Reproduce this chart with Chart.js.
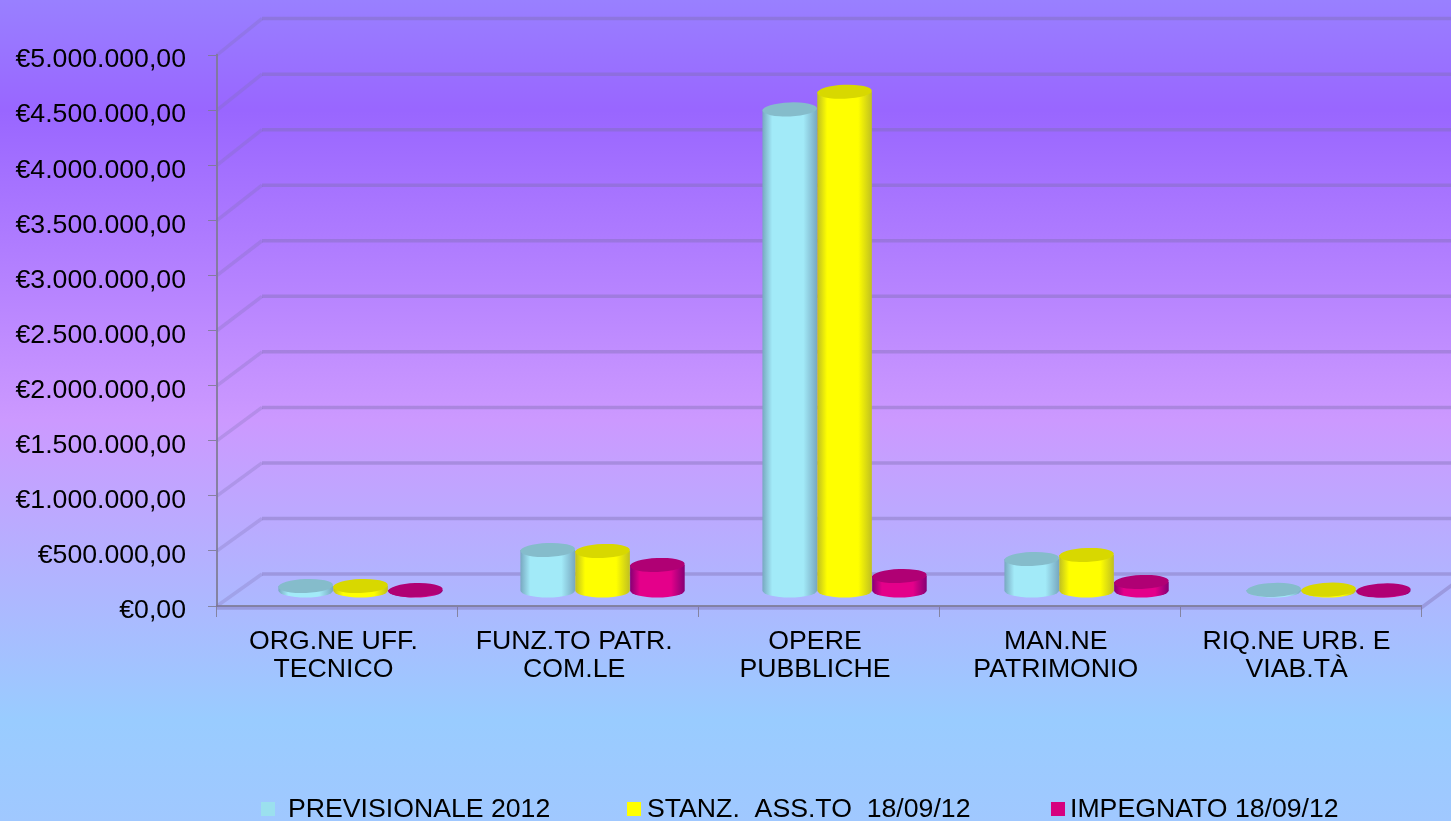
<!DOCTYPE html>
<html>
<head>
<meta charset="utf-8">
<title>Grafico</title>
<script src="https://cdn.jsdelivr.net/npm/chart.js@4"></script>
<style>
  html, body { margin: 0; padding: 0; height: 100%; overflow: hidden; }
  body { background: linear-gradient(to bottom, #9980ff 0px, #9966ff 110px, #cc99ff 420px, #99ccff 720px, #a0c8ff 821px); }
  #wrap { position: absolute; left: 0; top: 0; width: 1451px; height: 821px; }
  canvas { filter: blur(0.6px); }
</style>
</head>
<body>
<div id="wrap"><canvas id="chart1"></canvas></div>
<script>
// Dati
const categories = [
  ['ORG.NE UFF.', 'TECNICO'],
  ['FUNZ.TO PATR.', 'COM.LE'],
  ['OPERE', 'PUBBLICHE'],
  ['MAN.NE', 'PATRIMONIO'],
  ['RIQ.NE URB. E', 'VIAB.TÀ']
];
const seriesNames = ['PREVISIONALE 2012', 'STANZ.  ASS.TO  18/09/12', 'IMPEGNATO 18/09/12'];
const previsionale = [45000, 372000, 4370000, 290000, 10000];
const stanziato = [45000, 363000, 4530000, 327000, 12000];
const impegnato = [8000, 236000, 136000, 82000, 5000];

// colori: [centro, bordo, coperchio]
const cyanShades = ['#a2eaf8', '#78a8c0', '#85bccb'];
const yellowShades = ['#ffff00', '#c0c020', '#d8d800'];
const magentaShades = ['#e4008a', '#860074', '#b00074'];
const gridColor = 'rgba(125,110,175,0.4)';
const diagColor = 'rgba(125,110,175,0.28)';
const axisColor = 'rgba(125,122,145,0.85)';
const depthX = 45, depthY = 32; // profondita' del pavimento
const labelFont = '"Liberation Sans"';
const labelSize = 26.67;

const numberFmt = new Intl.NumberFormat('de-DE', { minimumFractionDigits: 2, maximumFractionDigits: 2 });

// pareti e griglia 3D, disegnate dai tick dell'asse y
const wallsPlugin = {
  id: 'walls',
  beforeDatasetsDraw(chart) {
    const { ctx, scales, chartArea } = chart;
    const y0 = scales.y.getPixelForValue(0);
    ctx.save();
    ctx.lineWidth = 3.5;
    scales.y.ticks.forEach(t => {
      const y = scales.y.getPixelForValue(t.value);
      const backY = y0 - depthY - (y0 - y) * 1.008;
      ctx.strokeStyle = diagColor;
      ctx.beginPath();
      ctx.moveTo(chartArea.left, y);
      ctx.lineTo(chartArea.left + depthX, backY);
      ctx.stroke();
      ctx.strokeStyle = gridColor;
      ctx.beginPath();
      ctx.moveTo(chartArea.left + depthX, backY);
      ctx.lineTo(chart.width + 5, backY);
      ctx.stroke();
    });
    // pavimento
    ctx.strokeStyle = gridColor;
    ctx.beginPath();
    ctx.moveTo(chartArea.left, y0 + 2);
    ctx.lineTo(chartArea.right, y0 + 2);
    ctx.lineTo(chart.width + 5, y0 - 24);
    ctx.stroke();
    ctx.restore();
  }
};

// cilindri al posto dei rettangoli, presi dagli elementi del grafico
const shadesBySeries = [cyanShades, yellowShades, magentaShades];
const cylinderPlugin = {
  id: 'cylinders',
  beforeDatasetDraw(chart, args) {
    const { ctx } = chart;
    const shades = shadesBySeries[args.index];
    args.meta.data.forEach(bar => {
      const { x, y, base, width } = bar.getProps(['x', 'y', 'base', 'width'], true);
      // leggera prospettiva: lo spostamento cresce verso destra
      const cx = x + 23 + (x - 305) * 0.005, top = y - 15, bottom = base - 15;
      const rx = width / 2, ry = 7;
      const grad = ctx.createLinearGradient(cx - rx, 0, cx + rx, 0);
      grad.addColorStop(0, shades[1]);
      grad.addColorStop(0.18, shades[0]);
      grad.addColorStop(0.75, shades[0]);
      grad.addColorStop(1, shades[1]);
      ctx.save();
      ctx.fillStyle = grad;
      ctx.beginPath();
      ctx.moveTo(cx - rx, top);
      ctx.lineTo(cx - rx, bottom);
      ctx.ellipse(cx, bottom, rx, ry, 0, Math.PI, 0, true);
      ctx.lineTo(cx + rx, top);
      ctx.closePath();
      ctx.fill();
      ctx.fillStyle = shades[2];
      ctx.beginPath();
      ctx.ellipse(cx, top, rx, ry, -0.04, 0, Math.PI * 2);
      ctx.fill();
      ctx.restore();
    });
    return false; // niente barra standard
  }
};

// legenda in basso, come nell'originale
const legendPlugin = {
  id: 'bottomLegend',
  afterDraw(chart) {
    const { ctx } = chart;
    const boxX = [261, 627, 1051];
    const textX = [288, 647, 1070];
    const colors = ['#9be0ee', '#ffff00', '#d6007f'];
    ctx.save();
    ctx.font = labelSize + 'px ' + labelFont;
    ctx.textBaseline = 'middle';
    seriesNames.forEach((name, i) => {
      ctx.fillStyle = colors[i];
      ctx.fillRect(boxX[i], 802, 14, 14);
      ctx.fillStyle = '#000';
      ctx.fillText(name, textX[i], 810);
    });
    ctx.restore();
  }
};

const data = {
  labels: categories,
  datasets: [
    { label: seriesNames[0], data: previsionale, backgroundColor: cyanShades[0] },
    { label: seriesNames[1], data: stanziato, backgroundColor: yellowShades[0] },
    { label: seriesNames[2], data: impegnato, backgroundColor: magentaShades[0] }
  ]
};

const config = {
  type: 'bar',
  data: data,
  options: {
    responsive: true,
    maintainAspectRatio: false,
    animation: false,
    layout: { padding: { top: 55, right: 30, left: 0, bottom: 0 } },
    datasets: { bar: { barPercentage: 1, categoryPercentage: 0.68 } },
    plugins: { legend: { display: false }, tooltip: { enabled: false } },
    scales: {
      x: {
        afterFit: scale => { scale.height = 215; },
        border: { color: axisColor, width: 2 },
        grid: { drawOnChartArea: false, tickLength: 11, tickColor: axisColor, offset: true },
        ticks: { color: '#000', font: { size: labelSize, family: labelFont, lineHeight: 1.05 }, padding: 11, labelOffset: -4, maxRotation: 0, autoSkip: false }
      },
      y: {
        min: 0,
        max: 5000000,
        afterFit: scale => { scale.width = 217; },
        border: { color: axisColor, width: 2 },
        grid: { drawOnChartArea: false, tickLength: 9, tickColor: axisColor },
        ticks: {
          stepSize: 500000,
          color: '#000',
          padding: 22,
          labelOffset: 5,
          font: { size: labelSize, family: labelFont },
          callback: value => '€' + numberFmt.format(value)
        }
      }
    }
  },
  plugins: [wallsPlugin, cylinderPlugin, legendPlugin]
};

const myChart = new Chart(document.getElementById('chart1'), config);
</script>
</body>
</html>
